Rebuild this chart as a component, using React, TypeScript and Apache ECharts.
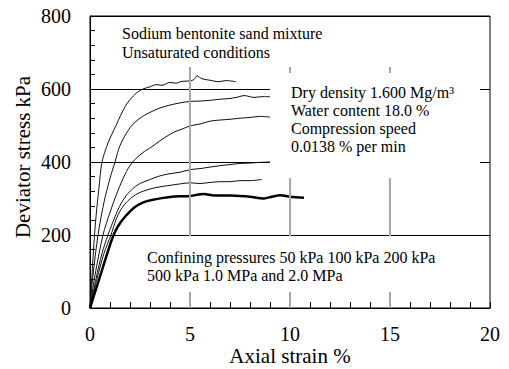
import React, { useEffect, useRef } from "react";
import * as echarts from "echarts";

// [axial strain %, deviator stress kPa]
const curve2000: number[][] = [
  [0, 0], [0.1, 90], [0.2, 180], [0.3, 250], [0.45, 330], [0.6, 400], [0.9, 452], [1.3, 500], [1.8, 556],
  [2.3, 588], [2.65, 600], [3, 606], [3.3, 612], [3.6, 610], [4, 618], [4.3, 616], [4.6, 621], [5, 622],
  [5.2, 626], [5.35, 636], [5.6, 628], [6, 624], [6.4, 620], [6.8, 623], [7.3, 620],
];
const curve1000: number[][] = [
  [0, 0], [0.15, 90], [0.4, 200], [0.7, 290], [1.0, 355], [1.25, 400], [1.5, 445], [2.0, 494], [2.5, 520],
  [3.0, 536], [3.5, 548], [4, 556], [4.5, 562], [5, 566], [5.5, 567], [6, 569], [6.5, 572], [7, 574],
  [7.4, 578], [7.7, 582], [8.2, 577], [8.6, 579], [9, 579],
];
const curve500: number[][] = [
  [0, 0], [0.25, 90], [0.65, 200], [1.0, 262], [1.4, 322], [1.75, 366], [2.1, 398], [2.6, 424], [3.1, 442],
  [3.6, 462], [4.2, 482], [4.6, 490], [5, 499], [5.5, 504], [6, 512], [6.5, 515], [7, 517], [7.5, 520],
  [8, 522], [8.5, 525], [9, 523],
];
const curve200: number[][] = [
  [0, 0], [0.3, 80], [0.6, 150], [0.9, 200], [1.25, 250], [1.55, 286], [1.9, 314], [2.4, 338], [3.0, 352],
  [3.5, 362], [4, 368], [4.5, 372], [5, 379], [5.5, 382], [6, 386], [6.5, 390], [7, 393], [7.5, 396],
  [8, 397], [8.5, 399], [9, 400],
];
const curve100: number[][] = [
  [0, 0], [0.35, 80], [0.7, 150], [1.05, 200], [1.3, 242], [1.55, 270], [1.9, 294], [2.4, 314], [3, 326],
  [3.5, 332], [4, 336], [4.5, 340], [5, 343], [5.5, 341], [6, 344], [6.5, 346], [7, 346], [7.5, 349],
  [8, 349], [8.6, 352],
];
const curve50: number[][] = [
  [0, 0], [0.3, 52], [0.6, 104], [0.9, 156], [1.15, 196], [1.4, 224], [1.75, 250], [2.25, 277], [2.7, 290],
  [3.1, 296], [3.6, 301], [4, 304], [4.5, 306], [5, 307], [5.7, 312], [6.2, 308], [7, 308], [7.5, 307],
  [8, 305], [8.7, 300], [9.1, 305], [9.5, 309], [10, 305], [10.7, 302],
];

const thinCurves = [curve2000, curve1000, curve500, curve200, curve100];
const referenceStrains = [5, 10, 15];
const referenceTop = 660;

const yTicks = [0, 200, 400, 600, 800];
const xTicks = [0, 5, 10, 15, 20];

const titleLines = ["Sodium bentonite sand mixture", "Unsaturated conditions"];
const testLines = ["Dry density 1.600 Mg/m³", "Water content 18.0 %", "Compression speed", "0.0138 % per min"];
const pressureLines = ["Confining pressures 50 kPa 100 kPa 200 kPa", "500 kPa 1.0 MPa and 2.0 MPa"];

const FONT = "'Liberation Serif', 'Times New Roman', serif";

export default function App() {
  const ref = useRef<HTMLDivElement>(null);
  useEffect(() => {
    if (!ref.current) return;
    const chart = echarts.init(ref.current, undefined, { renderer: "svg" });
    const series: any[] = thinCurves.map((c, i) => ({
      type: "line",
      data: c,
      showSymbol: false,
      smooth: 0.3,
      lineStyle: { color: "#111", width: 1 },
      z: 3,
      ...(i === 0
        ? {
            markLine: {
              silent: true,
              symbol: "none",
              label: { show: false },
              lineStyle: { color: "#a8a8a8", width: 2, type: "solid" },
              data: referenceStrains.map((s) => [{ coord: [s, 0] }, { coord: [s, referenceTop] }]),
            },
          }
        : {}),
    }));
    series.push({
      type: "line",
      data: curve50,
      showSymbol: false,
      smooth: 0.3,
      lineStyle: { color: "#000", width: 2.5 },
      z: 3,
    });
    chart.setOption({
      animation: false,
      backgroundColor: "#fff",
      grid: {
        left: 90,
        right: 19,
        top: 16,
        bottom: 61,
        containLabel: false,
        outerBoundsMode: "none",
        show: true,
        borderColor: "#000",
        borderWidth: 1,
      },
      xAxis: {
        type: "value",
        min: xTicks[0],
        max: xTicks[xTicks.length - 1],
        interval: 5,
        name: "Axial strain %",
        nameLocation: "middle",
        nameGap: 37,
        nameMoveOverlap: false,
        nameTextStyle: { fontFamily: FONT, fontSize: 21, color: "#000" },
        axisLine: { show: true, lineStyle: { color: "#000", width: 1 } },
        axisTick: { show: true, inside: true, length: 6, lineStyle: { color: "#000" } },
        minorTick: { show: true, splitNumber: 5, length: 6, lineStyle: { color: "#000" } },
        splitLine: { show: false },
        axisLabel: { fontFamily: FONT, fontSize: 20, color: "#000", margin: 16 },
      },
      yAxis: {
        type: "value",
        min: yTicks[0],
        max: yTicks[yTicks.length - 1],
        interval: 200,
        name: "Deviator stress kPa",
        nameLocation: "middle",
        nameGap: 57,
        nameMoveOverlap: false,
        nameTextStyle: { fontFamily: FONT, fontSize: 21, color: "#000", padding: [0, 0, 0, 10] },
        axisLine: { show: true, lineStyle: { color: "#000", width: 1 } },
        axisTick: { show: true, inside: true, length: 5, lineStyle: { color: "#000" } },
        minorTick: { show: true, splitNumber: 5, length: 5, lineStyle: { color: "#000" } },
        splitLine: { show: true, lineStyle: { color: "#000", width: 1 } },
        axisLabel: { fontFamily: FONT, fontSize: 20, color: "#000", margin: 19 },
      },
      graphic: [
        { type: "rect", shape: { x: 270, y: 73, width: 210, height: 105 }, style: { fill: "#fff" }, z: 10 },
        { type: "rect", shape: { x: 147, y: 236, width: 333, height: 56 }, style: { fill: "#fff" }, z: 10 },
        {
          type: "text",
          x: 122,
          y: 24,
          z: 11,
          style: { text: titleLines.join("\n"), font: `16px ${FONT}`, fill: "#000", lineHeight: 19 },
        },
        {
          type: "text",
          x: 291,
          y: 83,
          z: 11,
          style: { text: testLines.join("\n"), font: `16px ${FONT}`, fill: "#000", lineHeight: 18 },
        },
        {
          type: "text",
          x: 147,
          y: 248,
          z: 11,
          style: { text: pressureLines.join("\n"), font: `16px ${FONT}`, fill: "#000", lineHeight: 18 },
        },
      ],
      series,
    });
    return () => chart.dispose();
  }, []);
  return <div ref={ref} style={{ width: 509, height: 369, position: "absolute", left: 0, top: 0 }} />;
}
